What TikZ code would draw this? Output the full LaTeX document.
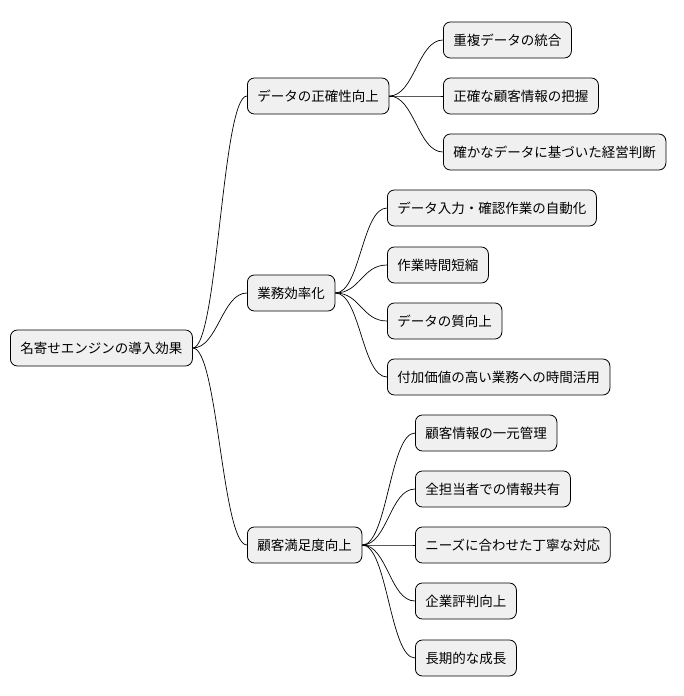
\documentclass[tikz,border=0pt]{standalone}
\usepackage{fontspec}
\setmainfont{Noto Sans CJK JP}
\begin{document}
\begin{tikzpicture}[x=1pt,y=-1pt,
  box/.style={draw=black,fill=black!6,rounded corners=7pt,minimum height=36pt,inner xsep=10pt,anchor=west,font=\fontsize{13.5}{16}\selectfont,line width=0.8pt},
  con/.style={draw=black,line width=0.7pt}]
\useasboundingbox (0,0) rectangle (684,696);
\node[box] (r) at (10,348) {名寄せエンジンの導入効果};
\node[box] (a) at (247,96) {データの正確性向上};
\node[box] (b) at (247,293) {業務効率化};
\node[box] (c) at (247,545) {顧客満足度向上};
\node[box] (a1) at (443,40) {重複データの統合};
\node[box] (a2) at (443,96) {正確な顧客情報の把握};
\node[box] (a3) at (443,152) {確かなデータに基づいた経営判断};
\node[box] (b1) at (387,208) {データ入力・確認作業の自動化};
\node[box] (b2) at (387,265) {作業時間短縮};
\node[box] (b3) at (387,321) {データの質向上};
\node[box] (b4) at (387,377) {付加価値の高い業務への時間活用};
\node[box] (c1) at (415,433) {顧客情報の一元管理};
\node[box] (c2) at (415,489) {全担当者での情報共有};
\node[box] (c3) at (415,545) {ニーズに合わせた丁寧な対応};
\node[box] (c4) at (415,601) {企業評判向上};
\node[box] (c5) at (415,658) {長期的な成長};
\foreach \p/\c in {r/a,r/b,r/c,a/a1,a/a2,a/a3,b/b1,b/b2,b/b3,b/b4,c/c1,c/c2,c/c3,c/c4,c/c5}
  \draw[con] (\p.east) .. controls +(25,0) and +(-25,0) .. (\c.west);
\end{tikzpicture}
\end{document}
